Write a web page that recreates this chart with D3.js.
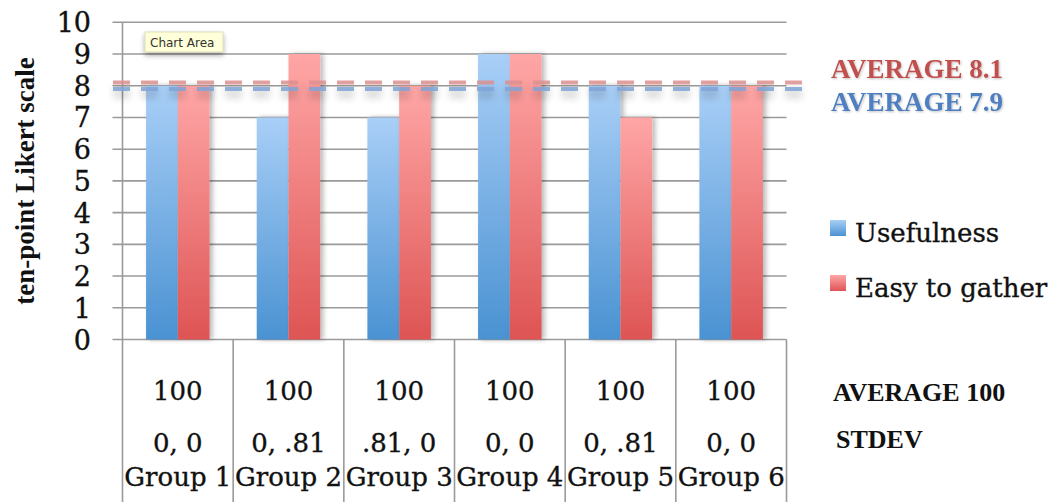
<!DOCTYPE html>
<html>
<head>
<meta charset="utf-8">
<script src="https://cdn.jsdelivr.net/npm/d3@7"></script>
<style>
  html, body { margin: 0; padding: 0; background: #fff; }
  svg { display: block; }
</style>
</head>
<body>
<svg id="chart" width="1057" height="502"></svg>
<script>
// Survey ratings per group on a ten-point Likert scale
const groups = ["Group 1", "Group 2", "Group 3", "Group 4", "Group 5", "Group 6"];
const seriesNames = ["Usefulness", "Easy to gather"];
const usefulness = [8, 7, 7, 9, 8, 8];
const easyToGather = [8, 9, 8, 9, 7, 8];
const responseRate = ["100", "100", "100", "100", "100", "100"];
const stdevs = ["0, 0", "0, .81", ".81, 0", "0, 0", "0, .81", "0, 0"];
const averages = [8.1, 7.9];            // Easy to gather, Usefulness
const averageLabels = ["AVERAGE 8.1", "AVERAGE 7.9"];
const yTicks = [0, 1, 2, 3, 4, 5, 6, 7, 8, 9, 10];

const svg = d3.select("#chart");
const W = 1057, H = 502;
const plot = { left: 122.5, right: 786.5, top: 22.3, bottom: 339.5 };

const serif = "'DejaVu Serif', serif";
const boldSerif = "'Liberation Serif', 'Times New Roman', serif";

const y = d3.scaleLinear().domain([0, 10]).range([plot.bottom, plot.top]);
const x0 = d3.scaleBand().domain(groups).range([plot.left, plot.right]).padding(0);
const bw = x0.bandwidth();
const x1 = d3.scaleBand().domain(seriesNames).range([0.213 * bw, 0.787 * bw]).padding(0);

const colors = {
  "Usefulness": { top: "#a9cff7", bottom: "#4a92d2", line: "#7fa3d6", text: "#4f7fc0" },
  "Easy to gather": { top: "#ffa6a6", bottom: "#de5454", line: "#dc8f8f", text: "#c0504d" }
};

const defs = svg.append("defs");
seriesNames.forEach((s, i) => {
  const g = defs.append("linearGradient")
    .attr("id", "grad" + i).attr("x1", 0).attr("y1", 0).attr("x2", 0).attr("y2", 1);
  g.append("stop").attr("offset", "0%").attr("stop-color", colors[s].top);
  g.append("stop").attr("offset", "100%").attr("stop-color", colors[s].bottom);
});
const barShadow = defs.append("filter").attr("id", "barShadow")
  .attr("x", "-20%").attr("y", "-10%").attr("width", "160%").attr("height", "130%");
barShadow.append("feDropShadow").attr("dx", 3).attr("dy", 0).attr("stdDeviation", 2.5)
  .attr("flood-color", "#000").attr("flood-opacity", 0.28);
// Lines have a zero-height bounding box, so their filter region is set in user space
const lineShadow = defs.append("filter").attr("id", "lineShadow")
  .attr("filterUnits", "userSpaceOnUse")
  .attr("x", 0).attr("y", 0).attr("width", W).attr("height", H);
lineShadow.append("feDropShadow").attr("dx", 0).attr("dy", 7).attr("stdDeviation", 3.5)
  .attr("flood-color", "#000").attr("flood-opacity", 0.22);
const tipShadow = defs.append("filter").attr("id", "tipShadow")
  .attr("x", "-20%").attr("y", "-40%").attr("width", "140%").attr("height", "220%");
tipShadow.append("feDropShadow").attr("dx", 0).attr("dy", 3).attr("stdDeviation", 2.5)
  .attr("flood-color", "#000").attr("flood-opacity", 0.35);
const textGlow = defs.append("filter").attr("id", "textGlow");
textGlow.append("feDropShadow").attr("dx", 1).attr("dy", 1).attr("stdDeviation", 0.8)
  .attr("flood-color", "#000").attr("flood-opacity", 0.25);

// Shared style for the regular serif text
function serifText(sel, size) {
  return sel.attr("font-family", serif).attr("font-size", size)
    .attr("fill", "#111").attr("stroke", "#111").attr("stroke-width", 0.35);
}

// Horizontal gridlines with short ticks left of the axis
svg.append("g").selectAll("line").data(yTicks).join("line")
  .attr("x1", plot.left - 10).attr("x2", plot.right)
  .attr("y1", d => y(d)).attr("y2", d => y(d))
  .attr("stroke", "#9a9a9a").attr("stroke-width", 1.6);

// Y tick labels
serifText(svg.append("g").selectAll("text").data(yTicks).join("text"), 27)
  .attr("x", 91).attr("y", d => y(d) + 10)
  .attr("text-anchor", "end")
  .text(d => d);

// Y axis title
svg.append("text")
  .attr("transform", `translate(34,${(plot.top + plot.bottom) / 2}) rotate(-90)`)
  .attr("text-anchor", "middle")
  .attr("font-family", boldSerif).attr("font-weight", "bold").attr("font-size", 27)
  .attr("fill", "#111")
  .text("ten-point Likert scale");

// Bars
const rows = groups.map((g, i) => ({ group: g, values: [usefulness[i], easyToGather[i]] }));
const barG = svg.append("g");
rows.forEach(r => {
  seriesNames.forEach((s, si) => {
    const v = r.values[si];
    barG.append("rect")
      .attr("x", x0(r.group) + x1(s))
      .attr("y", y(v))
      .attr("width", x1.bandwidth())
      .attr("height", y(0) - y(v))
      .attr("fill", `url(#grad${si})`)
      .attr("filter", "url(#barShadow)");
  });
});

// Axis line and data-table cell borders
svg.append("line")
  .attr("x1", plot.left).attr("x2", plot.left)
  .attr("y1", plot.top).attr("y2", H)
  .attr("stroke", "#9a9a9a").attr("stroke-width", 1.6);
svg.append("g").selectAll("line").data(groups).join("line")
  .attr("x1", d => x0(d) + bw).attr("x2", d => x0(d) + bw)
  .attr("y1", plot.bottom).attr("y2", H)
  .attr("stroke", "#9a9a9a").attr("stroke-width", 1.6);

// Average reference lines
const avgSeries = ["Easy to gather", "Usefulness"];
svg.append("g").selectAll("line").data(averages).join("line")
  .attr("x1", 113).attr("x2", 808)
  .attr("y1", d => y(d)).attr("y2", d => y(d))
  .attr("stroke", (d, i) => colors[avgSeries[i]].line)
  .attr("stroke-opacity", 0.85)
  .attr("stroke-width", 4)
  .attr("stroke-dasharray", "17,11")
  .attr("filter", "url(#lineShadow)");

svg.append("g").selectAll("text").data(averageLabels).join("text")
  .attr("x", 831).attr("y", (d, i) => [78, 111][i])
  .attr("font-family", boldSerif).attr("font-weight", "bold").attr("font-size", 27)
  .attr("fill", (d, i) => colors[avgSeries[i]].text)
  .attr("filter", "url(#textGlow)")
  .text(d => d);

// Data table rows
const tableRows = [
  { vals: responseRate, base: 400 },
  { vals: stdevs, base: 452 },
  { vals: groups, base: 486 }
];
tableRows.forEach(row => {
  serifText(svg.append("g").selectAll("text").data(groups).join("text"), 26)
    .attr("x", d => x0(d) + bw / 2)
    .attr("y", row.base)
    .attr("text-anchor", "middle")
    .text((d, i) => row.vals[i]);
});

svg.append("text").attr("x", 833).attr("y", 401)
  .attr("font-family", boldSerif).attr("font-weight", "bold").attr("font-size", 26)
  .attr("fill", "#111").text("AVERAGE 100");
svg.append("text").attr("x", 836).attr("y", 448)
  .attr("font-family", boldSerif).attr("font-weight", "bold").attr("font-size", 26)
  .attr("fill", "#111").text("STDEV");

// Legend
const legend = svg.append("g").selectAll("g").data(seriesNames).join("g")
  .attr("transform", (d, i) => `translate(830,${220 + i * 55})`);
legend.append("rect")
  .attr("width", 16).attr("height", 16)
  .attr("fill", (d, i) => `url(#grad${i})`);
serifText(legend.append("text"), 26)
  .attr("x", 25).attr("y", 22)
  .text(d => d);

// Hover tooltip box
const tip = svg.append("g").attr("transform", "translate(145,32)");
tip.append("rect").attr("width", 78).attr("height", 20)
  .attr("fill", "#ffffd9").attr("stroke", "#d6d6b0").attr("stroke-width", 0.8)
  .attr("filter", "url(#tipShadow)");
tip.append("text").attr("x", 5).attr("y", 15)
  .attr("font-family", "'DejaVu Sans', sans-serif").attr("font-size", 12)
  .attr("fill", "#333").text("Chart Area");
</script>
</body>
</html>
